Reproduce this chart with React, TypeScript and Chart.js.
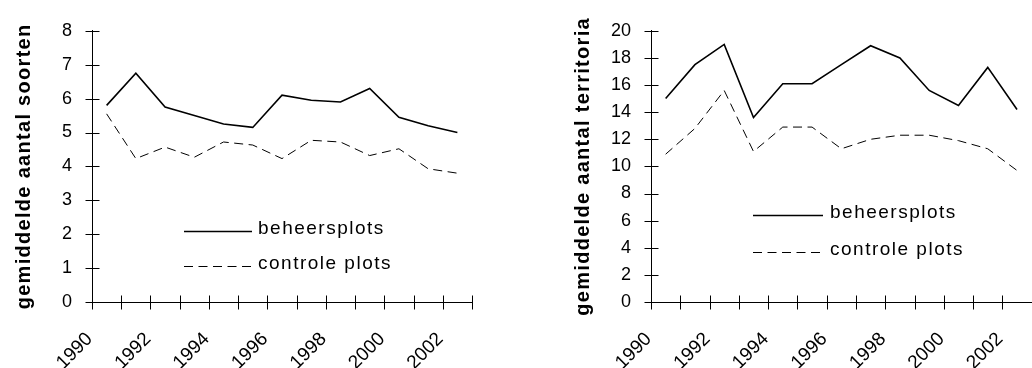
import React, { useEffect, useRef } from 'react';
import { Chart, registerables } from 'chart.js';

Chart.register(...registerables);

// ---- data ----
const years = ['1990', '1991', '1992', '1993', '1994', '1995', '1996', '1997', '1998', '1999', '2000', '2001', '2002'];
const xTickLabels = ['1990', '1992', '1994', '1996', '1998', '2000', '2002'];
const seriesNames = ['beheersplots', 'controle plots'];

const soortenBeheer = [5.8, 6.75, 5.75, 5.5, 5.25, 5.15, 6.1, 5.95, 5.9, 6.3, 5.45, 5.2, 5.0];
const soortenControle = [5.55, 4.23, 4.57, 4.27, 4.72, 4.63, 4.23, 4.77, 4.72, 4.32, 4.52, 3.93, 3.8];
const territoriaBeheer = [15, 17.5, 19, 13.6, 16.1, 16.1, 17.5, 18.9, 18, 15.6, 14.5, 17.3, 14.2];
const territoriaControle = [10.9, 12.8, 15.6, 11.1, 12.9, 12.9, 11.3, 12.0, 12.3, 12.3, 11.9, 11.3, 9.7];

const yTitleSoorten = 'gemiddelde aantal soorten';
const yTitleTerritoria = 'gemiddelde aantal territoria';

const FONT = '"Liberation Sans", Arial, sans-serif';
const CW = 520;
const CH = 368;

type Area = { left: number; right: number; top: number; bottom: number };
type Leg = { x1: number; x2: number; tx: number; y1: number; y2: number };

function LineChart(props: {
  title: string;
  beheer: number[];
  controle: number[];
  yMax: number;
  yStep: number;
  area: Area;
  titleX: number;
  legend: Leg;
}) {
  const ref = useRef<HTMLCanvasElement | null>(null);
  useEffect(() => {
    if (!ref.current) return;
    const { area, legend, title, titleX } = props;
    const extras = {
      id: 'extras',
      afterDraw(chart: any) {
        const ctx = chart.ctx as CanvasRenderingContext2D;
        const xs = chart.scales.x;
        const ys = chart.scales.y;
        const ca = chart.chartArea;
        ctx.save();
        ctx.strokeStyle = '#000';
        ctx.lineWidth = 1;
        ctx.setLineDash([]);
        // crossing tick marks on x axis (between categories)
        const axisY = Math.round(ca.bottom) + 0.5;
        for (let i = 0; i <= years.length; i++) {
          const px = Math.round(xs.getPixelForValue(i - 0.5)) + 0.5;
          ctx.beginPath();
          ctx.moveTo(px, axisY - 7);
          ctx.lineTo(px, axisY + 7);
          ctx.stroke();
        }
        // crossing tick marks on y axis
        const axisX = Math.round(ca.left) + 0.5;
        ys.ticks.forEach((_t: any, i: number) => {
          const py = Math.round(ys.getPixelForTick(i)) + 0.5;
          ctx.beginPath();
          ctx.moveTo(axisX - 7, py);
          ctx.lineTo(axisX + 7, py);
          ctx.stroke();
        });
        // y axis title
        ctx.save();
        ctx.translate(titleX, (ca.top + ca.bottom) / 2);
        ctx.rotate(-Math.PI / 2);
        ctx.fillStyle = '#000';
        ctx.font = `bold 20px ${FONT}`;
        (ctx as any).letterSpacing = '1.3px';
        ctx.textAlign = 'center';
        ctx.textBaseline = 'middle';
        ctx.fillText(title, 0, 0);
        ctx.restore();
        // legend
        ctx.lineWidth = 1.6;
        ctx.beginPath();
        ctx.moveTo(legend.x1, legend.y1 + 0.5);
        ctx.lineTo(legend.x2, legend.y1 + 0.5);
        ctx.stroke();
        ctx.lineWidth = 1;
        ctx.setLineDash([9, 5.5]);
        ctx.beginPath();
        ctx.moveTo(legend.x1, legend.y2 + 0.5);
        ctx.lineTo(legend.x2, legend.y2 + 0.5);
        ctx.stroke();
        ctx.setLineDash([]);
        ctx.fillStyle = '#000';
        ctx.font = `19px ${FONT}`;
        (ctx as any).letterSpacing = '1.5px';
        ctx.textAlign = 'left';
        ctx.textBaseline = 'middle';
        ctx.fillText(seriesNames[0], legend.tx, legend.y1 - 2);
        ctx.fillText(seriesNames[1], legend.tx, legend.y2 - 2);
        ctx.restore();
      },
    };

    const chart = new Chart(ref.current, {
      type: 'line',
      data: {
        labels: years,
        datasets: [
          {
            label: seriesNames[0],
            data: props.beheer,
            borderColor: '#000',
            backgroundColor: '#000',
            borderWidth: 1.6,
            pointRadius: 0,
            tension: 0,
            fill: false,
          },
          {
            label: seriesNames[1],
            data: props.controle,
            borderColor: '#000',
            backgroundColor: '#000',
            borderWidth: 1,
            borderDash: [9, 5.5],
            pointRadius: 0,
            tension: 0,
            fill: false,
          },
        ],
      },
      options: {
        responsive: false,
        animation: false,
        devicePixelRatio: 1,
        layout: {
          padding: { left: 0, top: area.top, right: CW - area.right, bottom: 0 },
        },
        plugins: {
          legend: { display: false },
          tooltip: { enabled: false },
          title: { display: false },
        },
        scales: {
          x: {
            type: 'category',
            offset: true,
            grid: { display: false, drawTicks: false, offset: true },
            border: { display: true, color: '#000', width: 1 },
            ticks: {
              autoSkip: false,
              minRotation: 45,
              maxRotation: 45,
              padding: 26,
              labelOffset: -17,
              color: '#000',
              font: { family: FONT, size: 19 },
              callback: function (this: any, value: any) {
                const lab = this.getLabelForValue(value);
                return xTickLabels.includes(lab) ? lab : '';
              },
            },
            afterFit: (s: any) => {
              s.height = CH - area.bottom;
            },
          },
          y: {
            min: 0,
            max: props.yMax,
            grid: { display: false, drawTicks: false },
            border: { display: true, color: '#000', width: 1 },
            ticks: {
              stepSize: props.yStep,
              padding: 20,
              color: '#000',
              font: { family: FONT, size: 18 },
            },
            afterFit: (s: any) => {
              s.width = area.left;
            },
          },
        },
      } as any,
      plugins: [extras],
    });
    return () => chart.destroy();
  }, []);
  return <canvas ref={ref} width={CW} height={CH} style={{ display: 'block' }} />;
}

export default function App() {
  return (
    <div
      style={{
        position: 'absolute',
        left: 0,
        top: 0,
        width: 1032,
        height: 368,
        overflow: 'hidden',
        background: '#fff',
      }}
    >
      <div style={{ position: 'absolute', left: 0, top: 0 }}>
        <LineChart
          title={yTitleSoorten}
          beheer={soortenBeheer}
          controle={soortenControle}
          yMax={8}
          yStep={1}
          area={{ left: 92, right: 472, top: 26, bottom: 302 }}
          titleX={24}
          legend={{ x1: 184, x2: 252, tx: 258, y1: 231, y2: 266 }}
        />
      </div>
      <div style={{ position: 'absolute', left: 540, top: 0 }}>
        <LineChart
          title={yTitleTerritoria}
          beheer={territoriaBeheer}
          controle={territoriaControle}
          yMax={20}
          yStep={2}
          area={{ left: 111, right: 498, top: 23, bottom: 302 }}
          titleX={43}
          legend={{ x1: 213, x2: 283, tx: 290, y1: 215, y2: 252 }}
        />
      </div>
    </div>
  );
}
